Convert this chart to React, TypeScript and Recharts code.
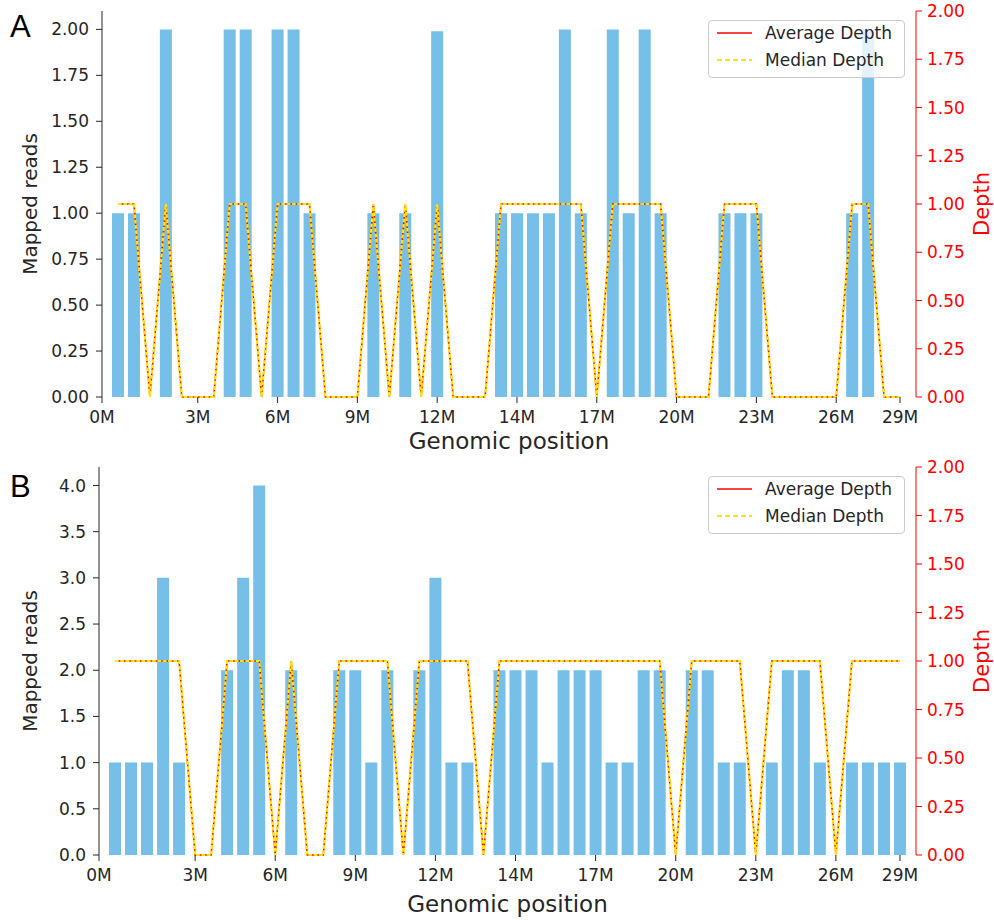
import React from 'react';
import { ComposedChart, Bar, Line, XAxis, YAxis } from 'recharts';

// x positions are bin indices (50 bins); ticks label a few of them in Mb
const xTickPositions = [-1, 5, 10, 15, 20, 25, 30, 35, 40, 45, 49];
const xTickLabels = ['0M', '3M', '6M', '9M', '12M', '14M', '17M', '20M', '23M', '26M', '29M'];

// Panel A
const readsA = [
  1, 1, 0, 2, 0, 0, 0, 2, 2, 0,
  2, 2, 1, 0, 0, 0, 1, 0, 1, 0,
  1.99, 0, 0, 0, 1, 1, 1, 1, 2, 1,
  0, 2, 1, 2, 1, 0, 0, 0, 1, 1,
  1, 0, 0, 0, 0, 0, 1, 2, 0, 0,
];
const avgDepthA = [
  1, 1, 0, 1, 0, 0, 0, 1, 1, 0,
  1, 1, 1, 0, 0, 0, 1, 0, 1, 0,
  1, 0, 0, 0, 1, 1, 1, 1, 1, 1,
  0, 1, 1, 1, 1, 0, 0, 0, 1, 1,
  1, 0, 0, 0, 0, 0, 1, 1, 0, 0,
];
const medDepthA = [
  1, 1, 0, 1, 0, 0, 0, 1, 1, 0,
  1, 1, 1, 0, 0, 0, 1, 0, 1, 0,
  1, 0, 0, 0, 1, 1, 1, 1, 1, 1,
  0, 1, 1, 1, 1, 0, 0, 0, 1, 1,
  1, 0, 0, 0, 0, 0, 1, 1, 0, 0,
];

// Panel B
const readsB = [
  1, 1, 1, 3, 1, 0, 0, 2, 3, 4,
  0, 2, 0, 0, 2, 2, 1, 2, 0, 2,
  3, 1, 1, 0, 2, 2, 2, 1, 2, 2,
  2, 1, 1, 2, 2, 0, 2, 2, 1, 1,
  0, 1, 2, 2, 1, 0, 1, 1, 1, 1,
];
const avgDepthB = [
  1, 1, 1, 1, 1, 0, 0, 1, 1, 1,
  0, 1, 0, 0, 1, 1, 1, 1, 0, 1,
  1, 1, 1, 0, 1, 1, 1, 1, 1, 1,
  1, 1, 1, 1, 1, 0, 1, 1, 1, 1,
  0, 1, 1, 1, 1, 0, 1, 1, 1, 1,
];
const medDepthB = [
  1, 1, 1, 1, 1, 0, 0, 1, 1, 1,
  0, 1, 0, 0, 1, 1, 1, 1, 0, 1,
  1, 1, 1, 0, 1, 1, 1, 1, 1, 1,
  1, 1, 1, 1, 1, 0, 1, 1, 1, 1,
  0, 1, 1, 1, 1, 0, 1, 1, 1, 1,
];

const readsTicksA = [0, 0.25, 0.5, 0.75, 1, 1.25, 1.5, 1.75, 2];
const readsTicksB = [0, 0.5, 1, 1.5, 2, 2.5, 3, 3.5, 4];
const depthTicks = [0, 0.25, 0.5, 0.75, 1, 1.25, 1.5, 1.75, 2];

const TEXT = '#262626';
const BAR = '#75bfe8';
const RED = '#ff0000';
const YELLOW = '#ffe800';
const FONT = '"DejaVu Sans", sans-serif';

interface PanelProps {
  letter: string;
  reads: number[];
  avg: number[];
  med: number[];
  readsMax: number;
  readsTicks: number[];
  readsDigits: number;
  leftWidth: number;
  top: number;
  height: number;
  marginTop: number;
  xHeight: number;
  xLabelOffset: number;
  legendTop: number;
  letterY: number;
}

const Panel: React.FC<PanelProps> = ({
  letter, reads, avg, med, readsMax, readsTicks, readsDigits,
  leftWidth, top, height, marginTop, xHeight, xLabelOffset, legendTop, letterY,
}) => {
  const data = reads.map((r, i) => ({ idx: i, reads: r, avg: avg[i], med: med[i] }));

  return (
    <div style={{ position: 'absolute', left: 0, top, width: 994, height }}>
      <ComposedChart
        width={994}
        height={height}
        data={data}
        margin={{ top: marginTop, right: 0, bottom: 0, left: 0 }}
        style={{ fontFamily: FONT }}
      >
        <XAxis
          dataKey="idx"
          type="number"
          domain={[-1, 50]}
          ticks={xTickPositions}
          interval={0}
          tickFormatter={(v: number) => xTickLabels[xTickPositions.indexOf(v)]}
          axisLine={false}
          tickLine={{ stroke: TEXT }}
          tickSize={6}
          tickMargin={8}
          height={xHeight}
          tick={{ fill: TEXT, fontSize: 17 }}
          label={{
            value: 'Genomic position',
            position: 'insideBottom',
            offset: xLabelOffset,
            fontSize: 23,
            fill: TEXT,
          }}
        />
        <YAxis
          yAxisId="left"
          orientation="left"
          width={leftWidth}
          domain={[0, readsMax]}
          ticks={readsTicks}
          interval={0}
          tickFormatter={(v: number) => v.toFixed(readsDigits)}
          axisLine={{ stroke: TEXT }}
          tickLine={{ stroke: TEXT }}
          tickSize={6}
          tickMargin={7}
          tick={{ fill: TEXT, fontSize: 17 }}
          label={{
            value: 'Mapped reads',
            angle: -90,
            position: 'insideLeft',
            offset: 30,
            fontSize: 20,
            fill: TEXT,
            style: { textAnchor: 'middle' },
          }}
        />
        <YAxis
          yAxisId="right"
          orientation="right"
          width={78}
          domain={[0, 2]}
          ticks={depthTicks}
          interval={0}
          tickFormatter={(v: number) => v.toFixed(2)}
          axisLine={{ stroke: RED }}
          tickLine={{ stroke: RED }}
          tickSize={6}
          tickMargin={5}
          tick={{ fill: RED, fontSize: 17 }}
          label={{
            value: 'Depth',
            angle: -90,
            position: 'insideRight',
            offset: 12,
            fontSize: 21,
            fill: RED,
            style: { textAnchor: 'middle' },
          }}
        />
        <Bar
          yAxisId="left"
          dataKey="reads"
          fill={BAR}
          barSize={12}
          isAnimationActive={false}
        />
        <Line
          yAxisId="right"
          type="linear"
          dataKey="avg"
          stroke={RED}
          strokeWidth={1.5}
          dot={false}
          isAnimationActive={false}
        />
        <Line
          yAxisId="right"
          type="linear"
          dataKey="med"
          stroke={YELLOW}
          strokeWidth={2.2}
          strokeDasharray="3.7 1.6"
          dot={false}
          isAnimationActive={false}
        />
      </ComposedChart>

      {/* panel letter */}
      <svg width={60} height={60} style={{ position: 'absolute', left: 0, top: 0 }}>
        <text x={10} y={letterY} fontSize={31} fontFamily='"Liberation Sans", Arial, sans-serif' fill="#000">
          {letter}
        </text>
      </svg>

      {/* legend box, semi-transparent like matplotlib */}
      <div
        style={{
          position: 'absolute',
          left: 708,
          top: legendTop,
          width: 197,
          height: 58,
          boxSizing: 'border-box',
          border: '1px solid #cccccc',
          borderRadius: 4,
          background: 'rgba(255,255,255,0.8)',
        }}
      >
        <svg width={197} height={58} style={{ position: 'absolute', left: -1, top: -1 }}>
          <line x1={9} x2={44} y1={13} y2={13} stroke={RED} strokeWidth={1.5} />
          <text x={57} y={19} fontSize={17} fontFamily={FONT} fill={TEXT}>Average Depth</text>
          <line x1={9} x2={44} y1={40} y2={40} stroke={YELLOW} strokeWidth={2} strokeDasharray="5 3" />
          <text x={57} y={46} fontSize={17} fontFamily={FONT} fill={TEXT}>Median Depth</text>
        </svg>
      </div>
    </div>
  );
};

export default function App() {
  return (
    <div
      style={{
        position: 'absolute',
        left: 0,
        top: 0,
        width: 994,
        height: 920,
        background: '#ffffff',
        fontFamily: FONT,
      }}
    >
      <Panel
        letter="A"
        reads={readsA}
        avg={avgDepthA}
        med={medDepthA}
        readsMax={2.1}
        readsTicks={readsTicksA}
        readsDigits={2}
        leftWidth={102}
        top={0}
        height={460}
        marginTop={11}
        xHeight={63}
        xLabelOffset={11}
        legendTop={20}
        letterY={37}
      />
      <Panel
        letter="B"
        reads={readsB}
        avg={avgDepthB}
        med={medDepthB}
        readsMax={4.2}
        readsTicks={readsTicksB}
        readsDigits={1}
        leftWidth={99}
        top={450}
        height={470}
        marginTop={17}
        xHeight={65}
        xLabelOffset={8}
        legendTop={26}
        letterY={47}
      />
    </div>
  );
}
